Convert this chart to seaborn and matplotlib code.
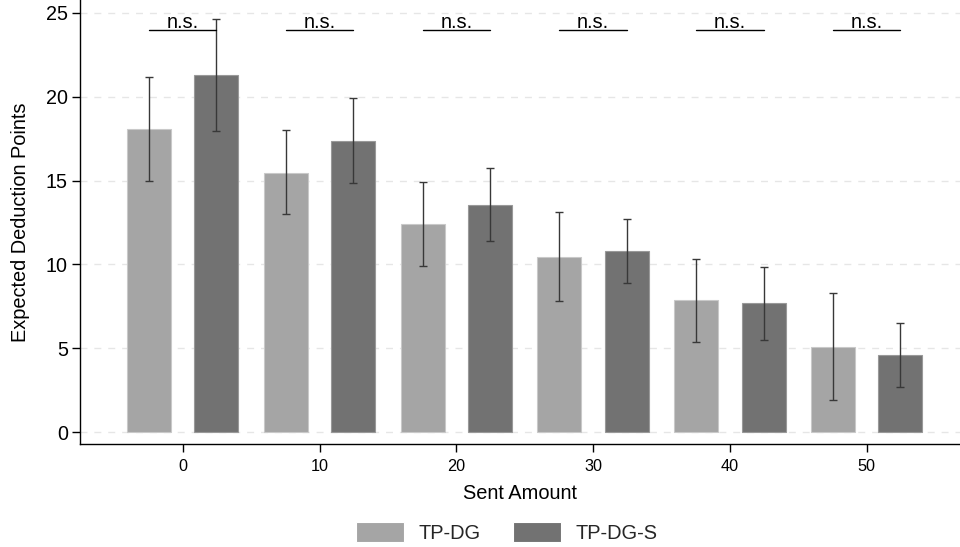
import pandas as pd
import matplotlib
matplotlib.use('Agg')
from matplotlib import pyplot as plt
import seaborn as sns

sns.set_theme(style='white')
plt.rcParams['font.family'] = ['Liberation Sans', 'DejaVu Sans']

# data
sent = ['0', '10', '20', '30', '40', '50']
groups = ['TP-DG', 'TP-DG-S']
mean_dg = [18.1, 15.45, 12.4, 10.45, 7.85, 5.1]
lo_dg = [15.0, 13.0, 9.9, 7.8, 5.35, 1.9]
hi_dg = [21.15, 18.0, 14.9, 13.1, 10.35, 8.3]
mean_dgs = [21.3, 17.35, 13.55, 10.8, 7.7, 4.6]
lo_dgs = [17.95, 14.85, 11.4, 8.9, 5.5, 2.7]
hi_dgs = [24.65, 19.9, 15.75, 12.7, 9.85, 6.5]
sig_labels = ['n.s.'] * 6
sig_height = 23.95

df = pd.DataFrame({
    'sent': sent * 2,
    'group': [groups[0]] * 6 + [groups[1]] * 6,
    'mean': mean_dg + mean_dgs,
    'lo': lo_dg + lo_dgs,
    'hi': hi_dg + hi_dgs,
})

palette = {'TP-DG': '#a5a5a5', 'TP-DG-S': '#727272'}
edges = {'TP-DG': '#c9c9c9', 'TP-DG-S': '#999999'}

fig = plt.figure(figsize=(9.6, 5.47), dpi=100)
ax = fig.add_axes([80 / 960, 1 - 444 / 547, 880 / 960, 444 / 547])

sns.barplot(
    data=df, x='sent', y='mean', hue='group',
    order=sent, hue_order=groups, palette=palette,
    width=0.985, gap=0.346, errorbar=None,
    linewidth=0.8, ax=ax, zorder=2,
)

# error bars + edge colours, positioned from the drawn bars
centers = {}
for cont, g in zip(ax.containers, groups):
    sub = df[df.group == g].set_index('sent').loc[sent]
    xs = []
    for rect in cont:
        rect.set_edgecolor(edges[g])
        xs.append(rect.get_x() + rect.get_width() / 2)
    centers[g] = xs
    ax.errorbar(
        xs, sub['mean'],
        yerr=[sub['mean'] - sub['lo'], sub['hi'] - sub['mean']],
        fmt='none', ecolor='#383838', elinewidth=1.0,
        capsize=3, capthick=1.0, zorder=3,
    )

# significance markers
for i, lab in enumerate(sig_labels):
    x0, x1 = centers[groups[0]][i], centers[groups[1]][i]
    ax.plot([x0, x1], [sig_height, sig_height], color='black', lw=1.0, zorder=4)
    ax.text((x0 + x1) / 2, sig_height - 0.1, lab, ha='center', va='bottom',
            fontsize=14.4, color='black')

ax.set_xlim(-0.751, 5.682)
ax.set_ylim(-0.704, 25.76)
ax.set_yticks([0, 5, 10, 15, 20, 25])
ax.yaxis.grid(True, linestyle=(0, (5, 5)), color='#e6e6e6', lw=1.0, zorder=0)
ax.set_axisbelow(True)

for side in ['top', 'right']:
    ax.spines[side].set_visible(False)
for side in ['left', 'bottom']:
    ax.spines[side].set_color('black')
    ax.spines[side].set_linewidth(1.0)

ax.tick_params(axis='y', left=True, length=5.8, width=1, pad=3, labelsize=14.2, colors='black')
ax.tick_params(axis='x', bottom=True, length=5.8, width=1, pad=5, labelsize=11.7, colors='black')

ax.set_ylabel('Expected Deduction Points', fontsize=14.4, color='black')
ax.yaxis.set_label_coords(-0.057, 0.5)
ax.set_xlabel('Sent Amount', fontsize=14.4, color='black', labelpad=7)

handles, labels = ax.get_legend_handles_labels()
if ax.get_legend() is not None:
    ax.get_legend().remove()
fig.legend(handles, labels, loc='center', bbox_to_anchor=(0.528, 0.026), ncol=2,
           frameon=False, fontsize=14.4, handlelength=2.4, handleheight=1.15,
           handletextpad=0.7, columnspacing=1.65)

fig.savefig('out.png', dpi=100)
